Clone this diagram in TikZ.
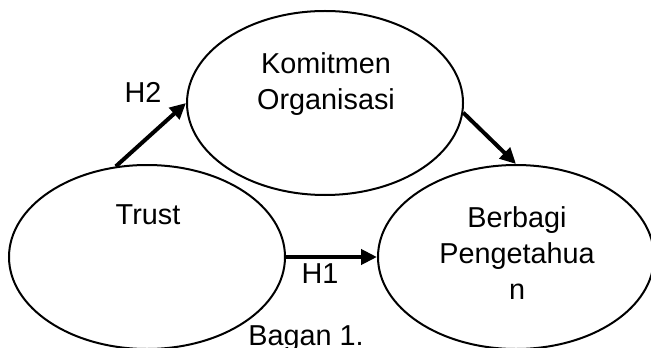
\documentclass[tikz,border=0pt]{standalone}
\usepackage{fontspec}
\setmainfont{Liberation Sans}
\usepackage{tikz}
\usetikzlibrary{shapes.geometric, arrows.meta}

\begin{document}
\begin{tikzpicture}[x=0.5pt, y=-0.5pt]
    % Styles for the variables and the paths
    \tikzstyle{varbox} = [ellipse, draw, line width=1pt, inner sep=0pt, minimum width=138pt, minimum height=92pt]
    \tikzstyle{caption} = [font=\fontsize{14.4}{18}\selectfont, align=center, inner sep=0pt]
    \tikzstyle{line} = [draw, line width=2pt, -{Triangle[length=8pt, width=7.5pt]}]

    \useasboundingbox (0,0) rectangle (651,347);

    % The three variables
    \node [varbox] (komitmen) at (325,103) {};
    \node [varbox] (trust) at (147,257) {};
    \node [varbox] (berbagi) at (516,257) {};

    % Their texts
    \node [caption] (komitmentext) at (326,84) {Komitmen\\Organisasi};
    \node [caption, anchor=base] (trusttext) at (148,224) {Trust};
    \node [caption] (berbagitext) at (517,253) {Berbagi\\Pengetahua\\n};

    % Paths between the variables
    \path [line] (trust.109) -- (komitmen.180);
    \path [line] (komitmen.-4) -- (berbagi.north);
    \path [line] (trust.east) -- (berbagi.west);

    % Hypothesis labels and the caption
    \node [caption, anchor=base] (h2) at (143,103) {H2};
    \node [caption, anchor=base] (h1) at (320,283) {H1};
    \node [caption, anchor=base] (bagan) at (306,345) {Bagan 1.};
\end{tikzpicture}
\end{document}
